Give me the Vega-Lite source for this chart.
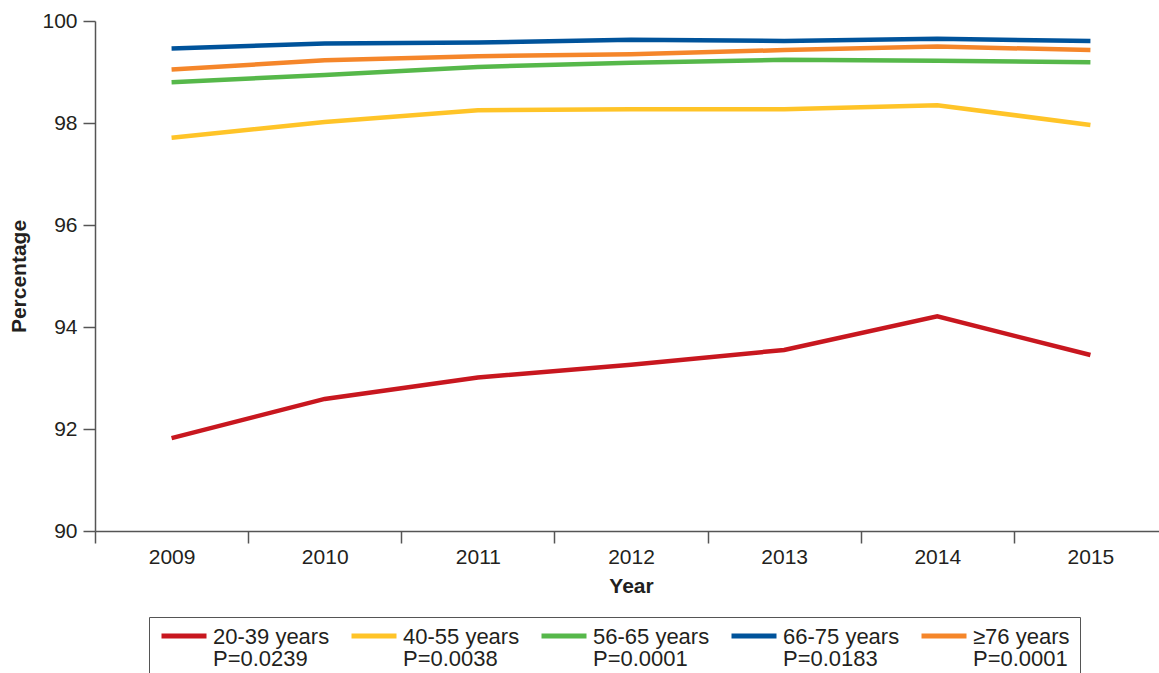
{
  "$schema": "https://vega.github.io/schema/vega-lite/v6.json",
  "autosize": "none",
  "width": 1064,
  "height": 510,
  "padding": {"left": 95, "top": 21, "right": 0, "bottom": 142},
  "background": "white",
  "config": {
    "view": {"stroke": null},
    "font": "Liberation Sans",
    "axis": {
      "domainColor": "#555555",
      "domainWidth": 1.5,
      "tickColor": "#555555",
      "tickWidth": 1.5,
      "tickSize": 12,
      "grid": false,
      "labelFont": "Liberation Sans",
      "labelFontSize": 21,
      "labelColor": "#231f20",
      "titleFont": "Liberation Sans",
      "titleFontSize": 21,
      "titleFontWeight": "bold",
      "titleColor": "#231f20"
    }
  },
  "data": {
    "values": [
      {"year": "2009", "series": "20-39 years|P=0.0239", "pct": 91.82},
      {"year": "2010", "series": "20-39 years|P=0.0239", "pct": 92.59},
      {"year": "2011", "series": "20-39 years|P=0.0239", "pct": 93.01},
      {"year": "2012", "series": "20-39 years|P=0.0239", "pct": 93.26},
      {"year": "2013", "series": "20-39 years|P=0.0239", "pct": 93.55},
      {"year": "2014", "series": "20-39 years|P=0.0239", "pct": 94.21},
      {"year": "2015", "series": "20-39 years|P=0.0239", "pct": 93.45},
      {"year": "2009", "series": "40-55 years|P=0.0038", "pct": 97.71},
      {"year": "2010", "series": "40-55 years|P=0.0038", "pct": 98.02},
      {"year": "2011", "series": "40-55 years|P=0.0038", "pct": 98.25},
      {"year": "2012", "series": "40-55 years|P=0.0038", "pct": 98.27},
      {"year": "2013", "series": "40-55 years|P=0.0038", "pct": 98.27},
      {"year": "2014", "series": "40-55 years|P=0.0038", "pct": 98.35},
      {"year": "2015", "series": "40-55 years|P=0.0038", "pct": 97.96},
      {"year": "2009", "series": "56-65 years|P=0.0001", "pct": 98.80},
      {"year": "2010", "series": "56-65 years|P=0.0001", "pct": 98.94},
      {"year": "2011", "series": "56-65 years|P=0.0001", "pct": 99.10},
      {"year": "2012", "series": "56-65 years|P=0.0001", "pct": 99.18},
      {"year": "2013", "series": "56-65 years|P=0.0001", "pct": 99.24},
      {"year": "2014", "series": "56-65 years|P=0.0001", "pct": 99.22},
      {"year": "2015", "series": "56-65 years|P=0.0001", "pct": 99.19},
      {"year": "2009", "series": "66-75 years|P=0.0183", "pct": 99.46},
      {"year": "2010", "series": "66-75 years|P=0.0183", "pct": 99.56},
      {"year": "2011", "series": "66-75 years|P=0.0183", "pct": 99.58},
      {"year": "2012", "series": "66-75 years|P=0.0183", "pct": 99.63},
      {"year": "2013", "series": "66-75 years|P=0.0183", "pct": 99.61},
      {"year": "2014", "series": "66-75 years|P=0.0183", "pct": 99.65},
      {"year": "2015", "series": "66-75 years|P=0.0183", "pct": 99.61},
      {"year": "2009", "series": "≥76 years|P=0.0001", "pct": 99.05},
      {"year": "2010", "series": "≥76 years|P=0.0001", "pct": 99.23},
      {"year": "2011", "series": "≥76 years|P=0.0001", "pct": 99.31},
      {"year": "2012", "series": "≥76 years|P=0.0001", "pct": 99.35},
      {"year": "2013", "series": "≥76 years|P=0.0001", "pct": 99.43},
      {"year": "2014", "series": "≥76 years|P=0.0001", "pct": 99.50},
      {"year": "2015", "series": "≥76 years|P=0.0001", "pct": 99.43}
    ]
  },
  "mark": {"type": "line", "strokeWidth": 4.5, "strokeCap": "butt"},
  "encoding": {
    "x": {
      "field": "year",
      "type": "ordinal",
      "scale": {"type": "band", "range": [0, 1072], "paddingInner": 0, "paddingOuter": 0},
      "axis": {"title": "Year", "labelAngle": 0, "tickBand": "extent", "labelPadding": 3, "titlePadding": 8}
    },
    "y": {
      "field": "pct",
      "type": "quantitative",
      "scale": {"domain": [90, 100], "zero": false, "nice": false},
      "axis": {"title": "Percentage", "values": [90, 92, 94, 96, 98, 100], "labelPadding": 6, "titlePadding": 12}
    },
    "color": {
      "field": "series",
      "type": "nominal",
      "scale": {
        "domain": ["20-39 years|P=0.0239", "40-55 years|P=0.0038", "56-65 years|P=0.0001", "66-75 years|P=0.0183", "≥76 years|P=0.0001"],
        "range": ["#c8171f", "#ffc428", "#56b84a", "#00539b", "#f5862a"]
      },
      "legend": {
        "title": null,
        "orient": "none",
        "legendX": 54,
        "legendY": 596,
        "direction": "horizontal",
        "columns": 5,
        "gridAlign": "all",
        "columnPadding": 11,
        "symbolType": "M-1,0H1",
        "symbolSize": 2025,
        "symbolStrokeWidth": 5,
        "labelFont": "Liberation Sans",
        "labelFontSize": 22,
        "labelColor": "#231f20",
        "labelOffset": 4,
        "labelLimit": 0,
        "labelBaseline": "top",
        "labelExpr": "split(datum.label, '|')",
        "strokeColor": "#555555",
        "fillColor": "white",
        "padding": 10,
        "encode": {
          "symbols": {"update": {"y": {"value": 9}}},
          "labels": {"update": {"y": {"value": 9}, "lineHeight": {"value": 22}, "dy": {"value": -9}}}
        }
      }
    }
  }
}
